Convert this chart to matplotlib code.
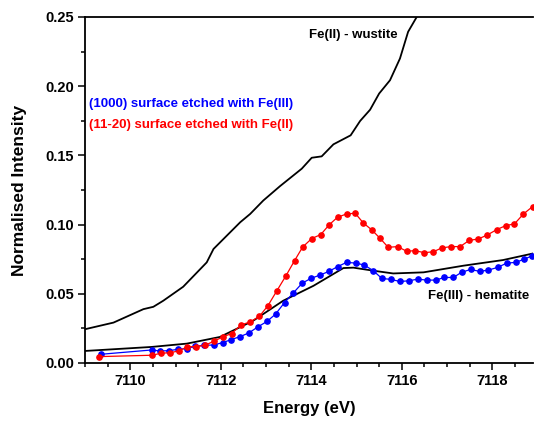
import matplotlib
matplotlib.use("Agg")
import matplotlib.pyplot as plt
from matplotlib.ticker import MultipleLocator

plt.rcParams['font.family'] = ['Liberation Sans', 'DejaVu Sans']

# Fe(III) hematite reference
hem_x = [7109.0, 7110.47, 7111.25, 7111.98, 7112.71, 7113.38, 7114.05, 7114.71, 7114.93,
         7115.37, 7115.81, 7116.48, 7117.36, 7118.24, 7118.95]
hem_y = [0.0087, 0.0116, 0.0140, 0.0188, 0.0304, 0.0450, 0.0558, 0.0686, 0.0689,
         0.0667, 0.0647, 0.0655, 0.0703, 0.0744, 0.0795]

# Fe(II) wustite reference
wus_x = [7109.0, 7109.63, 7110.29, 7110.51, 7110.73, 7111.17, 7111.69, 7111.84, 7112.06,
         7112.43, 7112.65, 7112.94, 7113.31, 7113.79, 7114.01, 7114.23, 7114.49, 7114.87,
         7115.08, 7115.30, 7115.50, 7115.74, 7115.96, 7116.14, 7116.33, 7116.6]
wus_y = [0.0244, 0.0292, 0.0389, 0.0406, 0.0450, 0.0551, 0.0727, 0.0824, 0.0896,
         0.1017, 0.1077, 0.1174, 0.1278, 0.1404, 0.1483, 0.1493, 0.1580, 0.1645,
         0.1749, 0.1830, 0.1947, 0.2043, 0.2200, 0.2393, 0.2500, 0.2700]

# (11-20) surface etched with Fe(II)
red_x = [7109.30, 7110.47, 7110.68, 7110.88, 7111.08, 7111.26, 7111.45, 7111.65, 7111.86,
         7112.04, 7112.24, 7112.45, 7112.65, 7112.85, 7113.04, 7113.24, 7113.44, 7113.63,
         7113.81, 7114.01, 7114.21, 7114.40, 7114.58, 7114.78, 7114.97, 7115.15, 7115.34,
         7115.52, 7115.70, 7115.91, 7116.11, 7116.29, 7116.50, 7116.70, 7116.88, 7117.08,
         7117.29, 7117.49, 7117.69, 7117.89, 7118.10, 7118.30, 7118.49, 7118.69, 7118.89]
red_y = [0.0046, 0.0056, 0.0070, 0.0075, 0.0087, 0.0118, 0.0118, 0.0128, 0.0159,
         0.0188, 0.0213, 0.0275, 0.0297, 0.0336, 0.0413, 0.0522, 0.0630, 0.0739,
         0.0838, 0.0899, 0.0928, 0.1000, 0.1053, 0.1077, 0.1082, 0.1012, 0.0961,
         0.0901, 0.0836, 0.0841, 0.0807, 0.0812, 0.0797, 0.0804, 0.0831, 0.0841,
         0.0841, 0.0886, 0.0896, 0.0925, 0.0964, 0.0993, 0.1005, 0.1077, 0.1130]

# (1000) surface etched with Fe(III)
blue_x = [7109.35, 7110.47, 7110.66, 7110.86, 7111.05, 7111.25, 7111.43, 7111.63, 7111.84,
          7112.04, 7112.23, 7112.43, 7112.62, 7112.82, 7113.02, 7113.21, 7113.41, 7113.60,
          7113.80, 7113.99, 7114.19, 7114.39, 7114.58, 7114.78, 7114.98, 7115.17, 7115.37,
          7115.56, 7115.76, 7115.96, 7116.16, 7116.35, 7116.55, 7116.75, 7116.94, 7117.14,
          7117.32, 7117.52, 7117.72, 7117.91, 7118.12, 7118.32, 7118.52, 7118.71, 7118.87]
blue_y = [0.0063, 0.0094, 0.0087, 0.0089, 0.0099, 0.0104, 0.0121, 0.0128, 0.0130,
          0.0147, 0.0169, 0.0191, 0.0217, 0.0261, 0.0300, 0.0353, 0.0437, 0.0505,
          0.0577, 0.0611, 0.0635, 0.0662, 0.0696, 0.0727, 0.0722, 0.0708, 0.0667,
          0.0611, 0.0604, 0.0589, 0.0594, 0.0606, 0.0599, 0.0599, 0.0618, 0.0618,
          0.0655, 0.0676, 0.0662, 0.0671, 0.0691, 0.0722, 0.0727, 0.0751, 0.0773]

fig = plt.figure(figsize=(5.34, 4.21), dpi=100)
ax = fig.add_axes([85/534, 1 - 363/421, (533 - 85)/534, (363 - 17)/421])

ax.plot(wus_x, wus_y, color='black', lw=1.3)
ax.plot(hem_x, hem_y, color='black', lw=1.3)
ax.plot(blue_x, blue_y, color='#0000ff', lw=0.9, marker='o', ms=3.8)
ax.plot(red_x, red_y, color='#ff0000', lw=0.9, marker='o', ms=3.8)

ax.set_xlim(7109, 7118.9)
ax.set_ylim(0, 0.25)
ax.xaxis.set_major_locator(MultipleLocator(2))
ax.xaxis.set_minor_locator(MultipleLocator(0.5))
ax.yaxis.set_major_locator(MultipleLocator(0.05))
ax.yaxis.set_minor_locator(MultipleLocator(0.025))
ax.yaxis.set_major_formatter(matplotlib.ticker.FormatStrFormatter('%.2f'))

ax.spines['right'].set_visible(False)
for s in ['left', 'bottom', 'top']:
    ax.spines[s].set_linewidth(1.3)
ax.tick_params(which='both', direction='out', top=False, right=False, width=1.1)
ax.tick_params(which='major', length=5, labelsize=10.5, pad=3)
ax.tick_params(which='minor', length=3)
for lab in ax.get_xticklabels() + ax.get_yticklabels():
    lab.set_fontweight('bold')

ax.set_xlabel('Energy (eV)', fontsize=12, fontweight='bold', labelpad=9)
ax.set_ylabel('Normalised Intensity', fontsize=12.5, fontweight='bold', labelpad=13)

ax.text(7113.95, 0.237, 'Fe(II) - wustite', fontsize=9.5, fontweight='bold',
        color='black', va='center')
ax.text(7116.58, 0.0486, 'Fe(III) - hematite', fontsize=9.5, fontweight='bold',
        color='black', va='center')
ax.text(7109.09, 0.187, '(1000) surface etched with Fe(III)', fontsize=9.5,
        fontweight='bold', color='#0000ff', va='center')
ax.text(7109.09, 0.1717, '(11-20) surface etched with Fe(II)', fontsize=9.5,
        fontweight='bold', color='#ff0000', va='center')

fig.savefig('out.png', dpi=100)
